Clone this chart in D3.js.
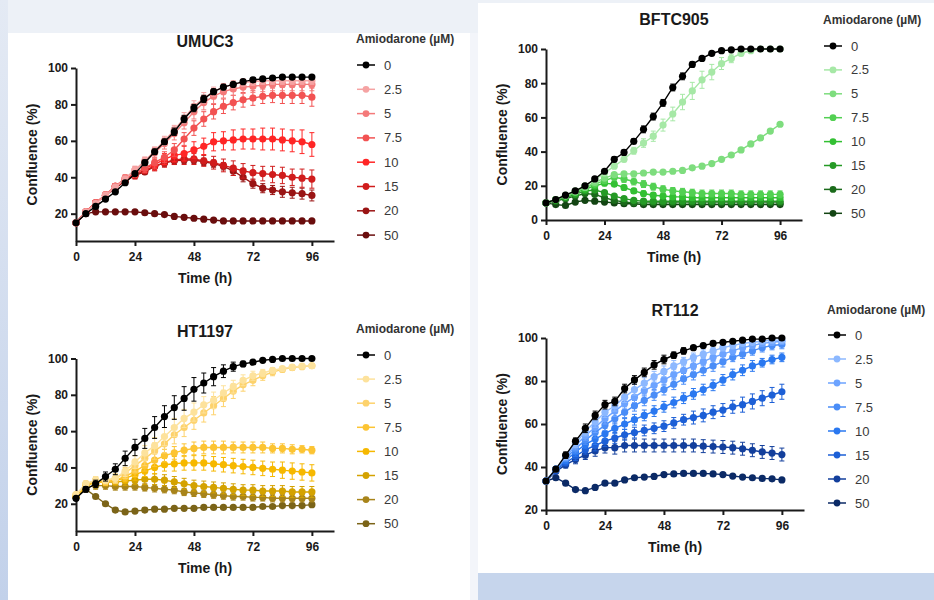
<!DOCTYPE html>
<html>
<head>
<meta charset="utf-8">
<script src="https://cdn.jsdelivr.net/npm/d3@7"></script>
<style>
  body { margin: 0; background: #eaeff7; }
  svg { display: block; font-family: "Liberation Sans", Arial, sans-serif; }
</style>
</head>
<body>
<svg id="chart" width="934" height="600"></svg>
<script>
// Time points (h) and amiodarone doses (µM)
const times = [0, 4, 8, 12, 16, 20, 24, 28, 32, 36, 40, 44, 48, 52, 56, 60, 64, 68, 72, 76, 80, 84, 88, 92, 96];
const doses = ["0", "2.5", "5", "7.5", "10", "15", "20", "50"];
const xTicks = [0, 24, 48, 72, 96];

// UMUC3 confluence (%), one row per dose
const umuc3Mean = [
  [15, 20, 24, 28, 32, 37, 42, 48, 54, 59.5, 65, 72, 78, 83, 87, 89.5, 91, 92.5, 93.5, 94, 94.5, 95, 95, 95, 95],
  [15, 21, 25.5, 30, 34.5, 39, 44, 49, 54.5, 60, 66, 72.5, 79, 83.5, 87, 89.5, 91, 92, 92.5, 93, 93, 93, 93, 93, 93],
  [15, 21, 26, 30.5, 35, 39.5, 44, 48.5, 53.5, 58.5, 64, 70, 76, 81, 84.5, 87, 88.5, 89.5, 90, 90.5, 91, 91, 91, 91, 91],
  [15, 21, 26, 30, 35, 39, 42, 45, 48, 51, 55, 61, 67, 72, 76, 79, 81, 82.5, 83.5, 84.5, 85, 85, 85, 85, 84],
  [15, 21, 26, 30, 35, 39, 42, 45, 47, 50, 52, 53, 55, 57, 59.5, 60, 60.5, 61, 61, 61, 61, 60.5, 60, 59.5, 58],
  [15, 21, 26, 30, 35, 38, 41, 44, 46, 48, 49.5, 50, 50, 49, 48, 46.5, 45, 43.5, 42.5, 42, 41.5, 41, 40, 39.5, 39],
  [15, 21, 26, 30, 34, 38, 41, 43, 46, 48, 49, 49.5, 49.5, 48.5, 47.5, 46, 43.5, 40, 36.5, 34, 33, 32, 31.5, 31, 30],
  [15, 20, 21, 21, 21, 21, 21, 20.5, 20, 19.5, 18.5, 18, 17.5, 17, 16.5, 16, 16, 16, 16, 16, 16, 16, 16, 16, 16]
];
const umuc3Err = [
  [0.5, 1, 1, 1, 1, 1, 1, 1.5, 1.5, 1.5, 2, 2, 2, 2, 1.5, 1.5, 1, 1, 1, 1, 1, 1, 1, 1, 1],
  [0.5, 1, 1, 1.5, 1.5, 1.5, 2, 2, 2, 2.5, 2.5, 3, 3, 3, 2.5, 2, 2, 2, 2, 2, 2, 2, 2, 2, 2],
  [0.5, 1, 1, 1.5, 1.5, 2, 2, 2.5, 3, 3, 3.5, 3.5, 4, 4, 4, 3.5, 3.5, 3.5, 3.5, 3.5, 3.5, 3.5, 3.5, 3.5, 3.5],
  [0.5, 1, 1, 1.5, 1.5, 2, 2, 2.5, 3, 3, 3.5, 3.5, 4, 4, 4, 4, 4, 4, 4, 4, 4, 4.5, 4.5, 4.5, 5],
  [0.5, 1, 1, 1.5, 1.5, 2, 2, 2.5, 3, 3, 3.5, 4, 4.5, 4.5, 5, 5, 5.5, 5.5, 5.5, 6, 6, 6, 6, 6.5, 6.5],
  [0.5, 1, 1, 1.5, 1.5, 2, 2, 2, 2.5, 2.5, 2.5, 3, 3, 3, 3.5, 3.5, 4, 4, 4, 4, 4.5, 4.5, 4.5, 5, 5],
  [0.5, 1, 1, 1, 1, 1.5, 1.5, 1.5, 2, 2, 2, 2, 2, 2, 2, 2, 2.5, 2.5, 2.5, 2.5, 2.5, 3, 3, 3, 3],
  [0.5, 0.5, 0.5, 0.5, 0.5, 0.5, 0.5, 0.5, 0.5, 0.5, 0.5, 0.5, 0.5, 0.5, 0.5, 0.5, 0.5, 0.5, 0.5, 0.5, 0.5, 0.5, 0.5, 0.5, 0.5]
];
const umuc3Colors = ["#000000", "#f5a3a3", "#f47a7a", "#f25252", "#ff2626", "#d01c1c", "#9a1414", "#6a0d0d"];

// BFTC905
const bftcMean = [
  [10, 12, 14.5, 17, 20, 24, 28.5, 35.5, 39.5, 46, 53, 60.5, 68.5, 77.5, 84, 91, 94.5, 97.5, 99, 99.5, 100, 100, 100, 100, 100],
  [10, 12, 14.5, 17, 20, 23.5, 27.5, 31.5, 35.5, 40.5, 45, 49, 55.5, 62, 69, 75.5, 82, 86.5, 91.5, 94.5, 97.5, 99, 100, 100, 100],
  [10, 12, 14, 16.5, 19, 22, 24.5, 26.5, 27, 27, 27.5, 28, 28, 28.5, 29, 30.5, 31.5, 33, 35.5, 38, 41, 44.5, 48, 52, 56],
  [10, 12, 14, 16.5, 19, 21, 23, 25, 24, 22.5, 21, 19.5, 18, 17, 16.5, 16, 15.5, 15.5, 15.5, 15.5, 15, 15, 15, 15, 15],
  [10, 12, 14, 16, 18, 20, 21.5, 21, 19, 17, 15.5, 14.5, 14, 13.5, 13.5, 13, 13, 13, 13, 13, 13, 13, 13, 13, 13],
  [10, 11.5, 13, 15, 17, 17.5, 16, 14, 12.5, 11.5, 11, 11, 11, 11, 11, 11, 11, 11, 11, 11, 11, 11, 11, 11, 11],
  [10, 11, 12.5, 14, 15.5, 15, 13, 11.5, 10.5, 10, 10, 10, 10, 10, 10, 10, 10, 10, 10, 10, 10, 10, 10, 10, 10],
  [10, 9, 8.5, 10.5, 11.5, 11, 10.5, 10, 9.5, 9.5, 9, 9, 9, 9, 9, 9, 9, 9, 9, 9, 9, 9, 9, 9, 9]
];
const bftcErr = [
  [0.5, 0.5, 1, 1, 1, 1, 1, 1.5, 1.5, 1.5, 2, 2, 2, 2, 2, 1.5, 1, 1, 0.5, 0.5, 0.5, 0.5, 0.5, 0.5, 0.5],
  [0.5, 0.5, 1, 1, 1, 1, 1, 1.5, 1.5, 2, 2.5, 3, 3.5, 4, 4.5, 5, 5, 4.5, 3.5, 2.5, 1.5, 1, 0.5, 0.5, 0.5],
  [0.5, 0.5, 0.5, 0.5, 1, 1, 1, 1, 1, 1, 1, 1, 1, 1, 1, 1, 1, 1, 1, 1, 1, 1, 1, 1, 1],
  [0.5, 0.5, 1, 1, 1, 1.5, 1.5, 2, 2, 2, 2, 2, 2, 2, 2, 2, 2, 2, 2, 2, 2, 2, 2, 2, 2],
  [0.5, 0.5, 1, 1, 1, 1.5, 1.5, 1.5, 1.5, 1.5, 1.5, 1.5, 1.5, 1.5, 1.5, 1.5, 1.5, 1.5, 1.5, 1.5, 1.5, 1.5, 1.5, 1.5, 1.5],
  [0.5, 0.5, 1, 1, 1, 1, 1, 1, 1, 1, 1, 1, 1, 1, 1, 1, 1, 1, 1, 1, 1, 1, 1, 1, 1],
  [0.5, 0.5, 0.5, 1, 1, 1, 1, 1, 1, 1, 1, 1, 1, 1, 1, 1, 1, 1, 1, 1, 1, 1, 1, 1, 1],
  [0.5, 0.5, 0.5, 0.5, 0.5, 0.5, 0.5, 0.5, 0.5, 0.5, 0.5, 0.5, 0.5, 0.5, 0.5, 0.5, 0.5, 0.5, 0.5, 0.5, 0.5, 0.5, 0.5, 0.5, 0.5]
];
const bftcColors = ["#000000", "#a6e8a6", "#7edd7e", "#52d052", "#33c033", "#259a25", "#1b6b1b", "#134513"];

// HT1197
const ht1197Mean = [
  [23, 28, 31, 35, 39, 45, 51, 56, 62, 68, 73, 78, 83, 86.5, 90, 93, 95.5, 97, 98, 99, 99.5, 100, 100, 100, 100],
  [25, 31, 33, 33, 34, 38, 43, 48, 52, 57, 62, 67, 70.5, 74.5, 77, 81, 84.5, 88, 90.5, 92, 93.5, 94.5, 95.3, 95.8, 96],
  [25, 31, 33, 33, 34, 37, 41, 45, 49, 53, 58, 62, 66, 70, 74, 78, 82, 85.5, 88, 90.5, 92.5, 94, 95, 95.5, 96],
  [24, 30, 32, 32, 33, 35, 38, 41, 44, 46.5, 48, 49.5, 50.5, 51, 51, 51, 51, 51, 51, 51, 50.5, 50.5, 50, 50, 49.5],
  [24, 30, 32, 32, 33, 34, 36, 38, 40, 41.5, 42, 42.5, 42.5, 42.5, 42, 41.5, 41, 40.5, 40, 39.5, 39, 38.5, 38, 37.5, 37],
  [24, 30, 32, 32, 32, 32.5, 33, 33.5, 33.5, 33, 32, 31, 30, 29.5, 29, 28.5, 28, 27.5, 27.5, 27, 27, 27, 26.5, 26.5, 26.5],
  [24, 29, 30, 30, 29.5, 29.5, 29.5, 29, 28.5, 28, 27.5, 26.5, 26, 25.5, 25, 24.5, 24, 24, 23.5, 23.5, 23, 23, 23, 23, 23],
  [24, 28, 24, 20, 16.5, 15.5, 16, 16.5, 17, 17, 17.5, 17.5, 17.5, 18, 18, 18, 18, 18, 18, 18.5, 18.5, 19, 19, 19, 19.5]
];
const ht1197Err = [
  [1, 1.5, 2, 2.5, 3, 4, 4.5, 5.5, 6, 6, 6.5, 6.5, 6.5, 5.5, 5, 3.5, 2.5, 1.5, 1, 0.5, 0.5, 0.5, 0.5, 0.5, 0.5],
  [1, 1.5, 2, 2, 2.5, 3, 3.5, 4, 4.5, 5, 5, 5, 5, 4.5, 4.5, 4, 3.5, 3, 2.5, 2, 1.5, 1, 1, 1, 1],
  [1, 1.5, 2, 2, 2.5, 3, 3.5, 4, 4.5, 5, 5, 5, 5, 5, 5, 4.5, 4, 3.5, 3, 2.5, 2, 1.5, 1.5, 1, 1],
  [1, 1.5, 2, 2, 2, 2.5, 3, 3, 3.5, 3.5, 3.5, 3.5, 3.5, 3.5, 3.5, 3.5, 3, 3, 3, 3, 2.5, 2.5, 2.5, 2, 2],
  [1, 1.5, 2, 2, 2, 2.5, 3, 3, 3.5, 3.5, 4, 4, 4, 4, 4, 4, 4, 4, 4, 4, 4, 4.5, 4.5, 4.5, 4.5],
  [1, 1.5, 2, 2, 2, 2.5, 2.5, 3, 3, 3, 3, 3, 3, 3, 3, 3, 3, 3, 3, 3, 3, 3, 3, 3, 3],
  [1, 1.5, 2, 2, 2, 2, 2, 2, 2, 2, 2, 2, 2, 2, 2, 2, 2, 2, 2, 2, 2, 2, 2, 2, 2],
  [1, 1, 1, 1, 0.5, 0.5, 0.5, 0.5, 0.5, 0.5, 0.5, 0.5, 0.5, 0.5, 0.5, 0.5, 0.5, 0.5, 0.5, 0.5, 0.5, 0.5, 0.5, 0.5, 0.5]
];
const ht1197Colors = ["#000000", "#fde29c", "#fdd26c", "#fcc433", "#f6b800", "#d4a200", "#a8841a", "#7b6418"];

// RT112
const rt112Mean = [
  [33.5, 39, 45.5, 52, 58, 64, 69, 70.5, 76.5, 80.5, 84, 87.5, 90, 92, 94, 95.5, 96.5, 97.5, 98, 98.5, 99, 99.5, 99.5, 100, 100],
  [33.5, 39, 45, 51, 56.5, 61, 65.5, 68.5, 72.5, 76, 79, 82, 84.5, 87, 89, 91, 92.5, 94, 95.5, 96.5, 97.5, 98, 98.5, 99, 99],
  [33.5, 39, 44.5, 50, 54.5, 58.5, 62.5, 66, 69.5, 72.5, 75.5, 78, 80.5, 83, 85, 87, 89, 91, 92.5, 94, 95.5, 96.5, 97.5, 98, 98.5],
  [33.5, 39, 44, 48.5, 52.5, 56, 59.5, 62.5, 65.5, 68.5, 71, 73.5, 76, 78.5, 81, 83, 85, 87, 89, 91, 92.5, 94, 95.5, 96.5, 97],
  [33.5, 39, 43, 47, 50.5, 53, 55.5, 58, 60, 62, 64, 66, 68, 70, 72, 74, 76, 78, 80.5, 83, 85, 87, 88.5, 90, 91],
  [33.5, 38.5, 42, 45, 48, 50, 52, 53.5, 55, 56, 57, 58, 59, 60.5, 62, 63, 64, 65.5, 66.5, 68, 69, 70.5, 72, 73.5, 75],
  [33.5, 38, 41, 43.5, 45.5, 47.5, 49, 49, 50, 50, 50, 50, 50, 50, 50, 50, 49.7, 49.5, 49.3, 49, 48.5, 47.8, 47, 46.5, 45.8],
  [33.5, 35, 32.5, 29.5, 29, 30.5, 32.5, 32.5, 34, 35, 35.3, 35.6, 36.5, 36.8, 37, 37, 37, 36.8, 36.5, 35.8, 35.3, 35, 34.7, 34.5, 34]
];
const rt112Err = [
  [1, 1, 1.5, 1.5, 2, 2, 2, 2, 2, 2, 2, 2, 2, 1.5, 1.5, 1, 1, 1, 0.5, 0.5, 0.5, 0.5, 0.5, 0.5, 0.5],
  [1, 1, 1.5, 2, 2, 2.5, 2.5, 2.5, 2.5, 2.5, 2.5, 2.5, 2.5, 2.5, 2, 2, 2, 1.5, 1.5, 1.5, 1, 1, 1, 1, 1],
  [1, 1, 1.5, 2, 2, 2.5, 2.5, 2.5, 2.5, 2.5, 2.5, 2.5, 2.5, 2.5, 2.5, 2.5, 2, 2, 2, 2, 1.5, 1.5, 1.5, 1.5, 1.5],
  [1, 1, 1.5, 2, 2, 2.5, 2.5, 2.5, 2.5, 2.5, 2.5, 2.5, 2.5, 2.5, 2.5, 2.5, 2.5, 2.5, 2.5, 2, 2, 2, 2, 2, 2],
  [1, 1, 1.5, 2, 2, 2.5, 2.5, 2.5, 2.5, 2.5, 2.5, 2.5, 2.5, 2.5, 2.5, 2.5, 2.5, 2.5, 2.5, 2.5, 2.5, 2.5, 2, 2, 2],
  [1, 1, 1.5, 2, 2, 2.5, 2.5, 2.5, 2.5, 2.5, 2.5, 2.5, 2.5, 2.5, 2.5, 3, 3, 3, 3, 3, 3.5, 3.5, 3.5, 3.5, 3.5],
  [1, 1, 1.5, 2, 2, 2.5, 2.5, 3, 3, 3, 3, 3, 3, 3, 3, 3, 3, 3, 3, 3, 3, 3, 3, 3, 3],
  [0.5, 0.5, 0.5, 0.5, 0.5, 0.5, 0.5, 0.5, 0.5, 0.5, 0.5, 0.5, 0.5, 0.5, 0.5, 0.5, 0.5, 0.5, 0.5, 0.5, 0.5, 0.5, 0.5, 0.5, 0.5]
];
const rt112Colors = ["#000000", "#8cb8ff", "#6ca3ff", "#4a8df7", "#2a78f0", "#1c5fd6", "#133f9c", "#0b2a66"];

// Panel layout (pixels)
const panels = [
  {title: "UMUC3", mean: umuc3Mean, err: umuc3Err, colors: umuc3Colors,
   xRange: [76, 334], yDomain: [5, 100], yRange: [241, 68], yTicks: [20, 40, 60, 80, 100],
   titleY: 41, legendX: 356, legendTitleY: 39, legendY: 65, legendStep: 24.3},
  {title: "BFTC905", mean: bftcMean, err: bftcErr, colors: bftcColors,
   xRange: [546, 802], yDomain: [0, 100], yRange: [220, 49], yTicks: [0, 20, 40, 60, 80, 100],
   titleY: 19, legendX: 823, legendTitleY: 20, legendY: 46, legendStep: 23.9},
  {title: "HT1197", mean: ht1197Mean, err: ht1197Err, colors: ht1197Colors,
   xRange: [76, 334], yDomain: [5, 100], yRange: [531, 358.5], yTicks: [20, 40, 60, 80, 100],
   titleY: 331, legendX: 356, legendTitleY: 329, legendY: 355, legendStep: 24.1},
  {title: "RT112", mean: rt112Mean, err: rt112Err, colors: rt112Colors,
   xRange: [546, 804], yDomain: [20, 100], yRange: [510, 338], yTicks: [20, 40, 60, 80, 100],
   titleY: 310, legendX: 827, legendTitleY: 310, legendY: 335, legendStep: 24}
];

const svg = d3.select("#chart");

// Slide background
const defs = svg.append("defs");
const grad = defs.append("linearGradient").attr("id", "edge").attr("x1", 0).attr("y1", 0).attr("x2", 0).attr("y2", 1);
grad.append("stop").attr("offset", "0%").attr("stop-color", "#e4eaf4");
grad.append("stop").attr("offset", "100%").attr("stop-color", "#c2d1ea");
svg.append("rect").attr("width", 934).attr("height", 600).attr("fill", "#edf1f7");
svg.append("rect").attr("width", 8).attr("height", 600).attr("fill", "url(#edge)");
svg.append("rect").attr("x", 8).attr("y", 33).attr("width", 462).attr("height", 567).attr("fill", "#ffffff");
svg.append("rect").attr("x", 470).attr("y", 33).attr("width", 8).attr("height", 567).attr("fill", "#f3f5fa");
svg.append("rect").attr("x", 478).attr("y", 3).attr("width", 456).attr("height", 570).attr("fill", "#ffffff");
svg.append("rect").attr("x", 478).attr("y", 573).attr("width", 456).attr("height", 27).attr("fill", "#c6d5ec");

function drawPanel(p) {
  const g = svg.append("g");
  const x = d3.scaleLinear().domain([0, 105]).range(p.xRange);
  const y = d3.scaleLinear().domain(p.yDomain).range(p.yRange);

  // Axes
  const yAxis = g.append("g")
    .attr("transform", `translate(${p.xRange[0]},0)`)
    .call(d3.axisLeft(y).tickValues(p.yTicks).tickSize(5).tickSizeOuter(0).tickPadding(3));
  const xAxis = g.append("g")
    .attr("transform", `translate(0,${p.yRange[0]})`)
    .call(d3.axisBottom(x).tickValues(xTicks).tickSize(5).tickSizeOuter(0).tickPadding(6));
  [xAxis, yAxis].forEach(a => {
    a.selectAll("path, line").attr("stroke", "#1a1a1a").attr("stroke-width", 2);
    a.selectAll("text")
      .attr("fill", "#1a1a1a")
      .style("font-size", "12px")
      .style("font-weight", "bold");
  });

  // Series, drawn from highest dose down so the control ends on top
  const line = d3.line().x((d, j) => x(times[j])).y(d => y(d));
  d3.range(doses.length).reverse().forEach(i => {
    const col = p.colors[i];
    const s = g.append("g");
    // error bars
    p.mean[i].forEach((m, j) => {
      const e = p.err[i][j];
      const cx = x(times[j]);
      s.append("path")
        .attr("d", `M${cx},${y(m - e)}V${y(m + e)}M${cx - 2.5},${y(m - e)}h5M${cx - 2.5},${y(m + e)}h5`)
        .attr("stroke", col)
        .attr("stroke-width", 1)
        .attr("fill", "none");
    });
    s.append("path")
      .datum(p.mean[i])
      .attr("d", line)
      .attr("fill", "none")
      .attr("stroke", col)
      .attr("stroke-width", 1.4);
    s.selectAll("circle")
      .data(p.mean[i])
      .enter()
      .append("circle")
      .attr("cx", (d, j) => x(times[j]))
      .attr("cy", d => y(d))
      .attr("r", 3.6)
      .attr("fill", col);
  });

  // Titles
  const cx = (p.xRange[0] + p.xRange[1]) / 2;
  g.append("text")
    .attr("x", cx).attr("y", p.titleY).attr("dy", "0.35em")
    .attr("text-anchor", "middle")
    .style("font-size", "16px").style("font-weight", "bold").attr("fill", "#1a1a1a")
    .text(p.title);
  g.append("text")
    .attr("x", cx).attr("y", p.yRange[0] + 37).attr("dy", "0.35em")
    .attr("text-anchor", "middle")
    .style("font-size", "14px").style("font-weight", "bold").attr("fill", "#1a1a1a")
    .text("Time (h)");
  g.append("text")
    .attr("transform", `translate(${p.xRange[0] - 44},${(p.yRange[0] + p.yRange[1]) / 2}) rotate(-90)`)
    .attr("dy", "0.35em")
    .attr("text-anchor", "middle")
    .style("font-size", "14px").style("font-weight", "bold").attr("fill", "#1a1a1a")
    .text("Confluence (%)");

  // Legend
  const lg = g.append("g");
  lg.append("text")
    .attr("x", p.legendX).attr("y", p.legendTitleY).attr("dy", "0.35em")
    .style("font-size", "12px").style("font-weight", "bold").attr("fill", "#333")
    .text("Amiodarone (µM)");
  doses.forEach((d, i) => {
    const ly = p.legendY + i * p.legendStep;
    lg.append("line")
      .attr("x1", p.legendX + 1).attr("x2", p.legendX + 19)
      .attr("y1", ly).attr("y2", ly)
      .attr("stroke", p.colors[i]).attr("stroke-width", 1.5);
    lg.append("circle")
      .attr("cx", p.legendX + 10).attr("cy", ly).attr("r", 3.4)
      .attr("fill", p.colors[i]);
    lg.append("text")
      .attr("x", p.legendX + 28).attr("y", ly).attr("dy", "0.35em")
      .style("font-size", "13px").attr("fill", "#3a3a3a")
      .text(d);
  });
}

panels.forEach(drawPanel);
</script>
</body>
</html>
